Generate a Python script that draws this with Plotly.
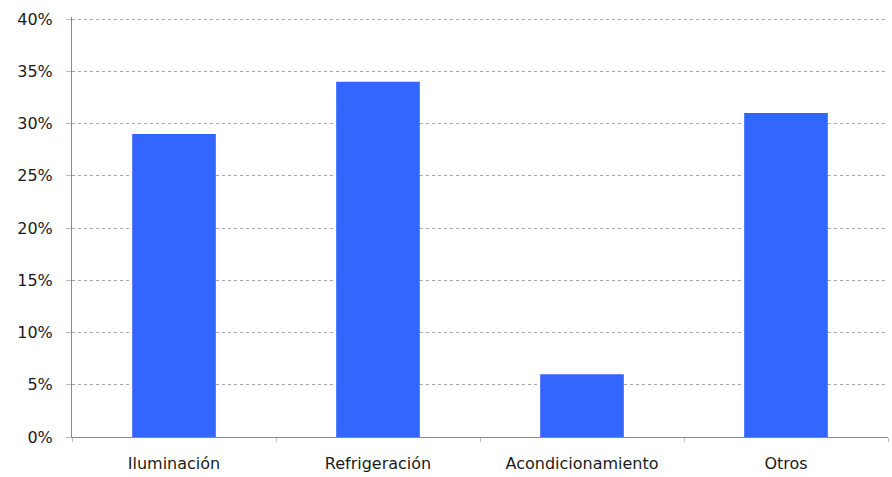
import plotly.graph_objects as go

categories = ["Iluminación", "Refrigeración", "Acondicionamiento", "Otros"]
values = [29, 34, 6, 31]
y_ticks = [0, 5, 10, 15, 20, 25, 30, 35, 40]
y_labels = [f"{v}%" for v in y_ticks]

fig = go.Figure(go.Bar(x=categories, y=values, marker=dict(color="#3366FF", line=dict(width=0)), width=0.41))

fig.update_layout(
    width=892, height=477,
    margin=dict(l=72, r=4, t=17, b=38),
    paper_bgcolor="white", plot_bgcolor="white",
    font=dict(family="DejaVu Sans, sans-serif", size=16, color="#1a1a1a"),
    showlegend=False,
)
fig.update_xaxes(
    showline=True, linecolor="#888", linewidth=1,
    ticks="outside", tickson="boundaries", ticklen=4, tickcolor="#bbb",
    showgrid=False, tickfont=dict(size=16), ticklabelstandoff=12,
)
fig.update_yaxes(
    range=[0, 40.2], tickvals=y_ticks, ticktext=y_labels,
    showline=True, linecolor="#888", linewidth=1,
    ticks="outside", ticklen=5, tickcolor="#bbb",
    showgrid=True, gridcolor="#aaa", griddash="dot", gridwidth=1,
    zeroline=False, tickfont=dict(size=16), ticklabelstandoff=10,
)
fig.write_html("out.html")
